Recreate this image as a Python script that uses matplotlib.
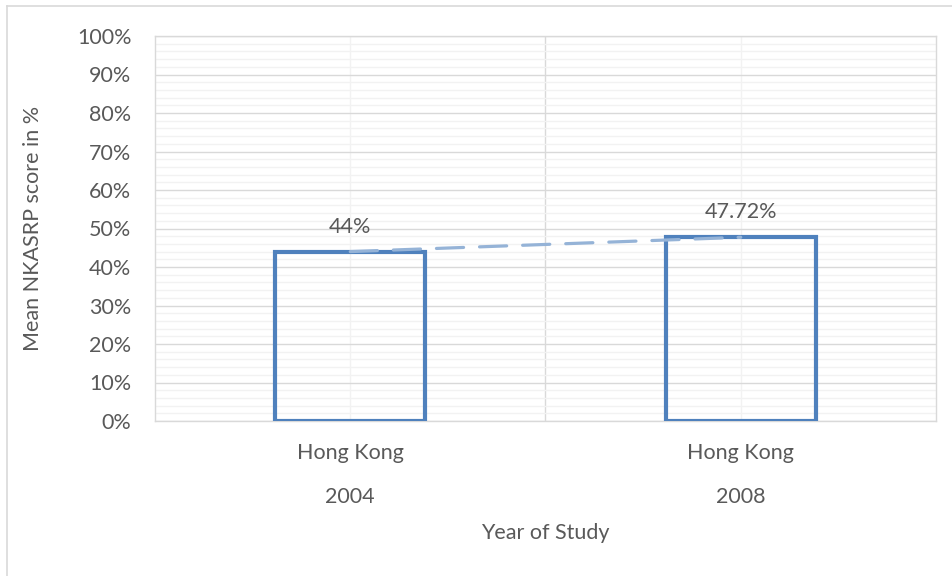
import matplotlib
matplotlib.use("Agg")
import matplotlib.pyplot as plt
from matplotlib.lines import Line2D
from matplotlib.ticker import MultipleLocator, FuncFormatter
import matplotlib.transforms as mtransforms

# Data
regions = ["Hong Kong", "Hong Kong"]
years = ["2004", "2008"]
scores = [44.0, 47.72]
score_labels = ["44%", "47.72%"]

TEXT = "#595959"
BAR = "#4F81BD"
TREND = "#95B3D7"
FS = 15.5

plt.rcParams["font.family"] = ["Lato", "DejaVu Sans"]

fig = plt.figure(figsize=(9.53, 5.76), dpi=100)
ax = fig.add_axes([155 / 953, 1 - 421 / 576, 781 / 953, 385 / 576])

x = list(range(len(scores)))
ax.bar(x, scores, width=0.385, facecolor="none", edgecolor=BAR, linewidth=3.0, zorder=3)

# Linear trendline through the series
ax.plot(x, scores, color=TREND, linestyle=(0, (8.5, 5)), linewidth=2.3, zorder=4,
        dash_capstyle="round")

for xi, v, lab in zip(x, scores, score_labels):
    ax.annotate(lab, (xi, v), xytext=(0, 18), textcoords="offset points",
                ha="center", va="center", fontsize=FS, color=TEXT)

ax.set_xlim(-0.5, len(scores) - 0.5)
ax.set_ylim(0, 100)
ax.yaxis.set_major_locator(MultipleLocator(10))
ax.yaxis.set_minor_locator(MultipleLocator(2))
ax.yaxis.set_major_formatter(FuncFormatter(lambda v, p: f"{v:.0f}%"))
ax.grid(axis="y", which="major", color="#D9D9D9", linewidth=1.0, zorder=0)
ax.grid(axis="y", which="minor", color="#F2F2F2", linewidth=1.0, zorder=0)

# Vertical gridlines: category centers (light) and category boundary (darker)
for xi in x:
    ax.axvline(xi, color="#F2F2F2", linewidth=1.0, zorder=0)
for b in range(1, len(scores)):
    ax.axvline(b - 0.5, color="#D9D9D9", linewidth=1.0, zorder=0)

ax.set_xticks(x)
ax.set_xticklabels(regions)
ax.tick_params(axis="both", which="both", length=0, labelsize=FS, labelcolor=TEXT)
ax.tick_params(axis="x", pad=16)
ax.tick_params(axis="y", pad=17)

for s in ax.spines.values():
    s.set_color("#D9D9D9")
    s.set_linewidth(1.0)

trans = mtransforms.blended_transform_factory(ax.transData, ax.transAxes)
for xi, yr in zip(x, years):
    ax.text(xi, -76 / 385, yr, transform=trans, ha="center", va="center",
            fontsize=FS, color=TEXT)

ax.text(0.5, -112 / 385, "Year of Study", transform=ax.transAxes, ha="center",
        va="center", fontsize=FS, color=TEXT)
fig.text(33 / 953, 1 - 228.5 / 576, "Mean NKASRP score in %", rotation=90,
         ha="center", va="center", fontsize=FS, color=TEXT)

# Chart frame (top and left edges)
fig.add_artist(Line2D([7 / 953, 1.0], [1 - 6 / 576, 1 - 6 / 576], color="#D9D9D9",
                      linewidth=1.2, transform=fig.transFigure))
fig.add_artist(Line2D([7 / 953, 7 / 953], [0.0, 1 - 6 / 576], color="#D9D9D9",
                      linewidth=1.2, transform=fig.transFigure))

fig.savefig("out.png", dpi=100, facecolor="white")
